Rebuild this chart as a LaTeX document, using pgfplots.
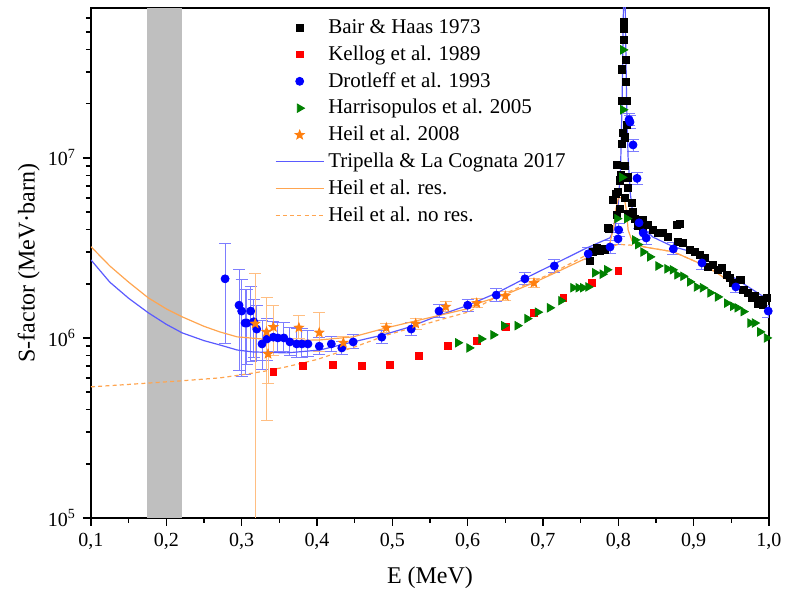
\documentclass[border=0pt]{standalone}
\usepackage{fontspec}
\setmainfont{Liberation Serif}
\usepackage{pgfplots}
\pgfplotsset{compat=1.18}
\usepackage{pgfplotstable}

\definecolor{tripblue}{RGB}{90,90,255}
\definecolor{heilorange}{RGB}{255,165,80}
\definecolor{starorange}{RGB}{255,127,14}
\definecolor{errblue}{RGB}{125,125,255}
\definecolor{errorange}{RGB}{255,190,130}
\definecolor{hgreen}{RGB}{0,128,0}

\pgfdeclareplotmark{fstar}{%
  \pgfpathmoveto{\pgfpointpolar{90}{\pgfplotmarksize}}%
  \pgfpathlineto{\pgfpointpolar{126}{0.42\pgfplotmarksize}}%
  \pgfpathlineto{\pgfpointpolar{162}{\pgfplotmarksize}}%
  \pgfpathlineto{\pgfpointpolar{198}{0.42\pgfplotmarksize}}%
  \pgfpathlineto{\pgfpointpolar{234}{\pgfplotmarksize}}%
  \pgfpathlineto{\pgfpointpolar{270}{0.42\pgfplotmarksize}}%
  \pgfpathlineto{\pgfpointpolar{306}{\pgfplotmarksize}}%
  \pgfpathlineto{\pgfpointpolar{342}{0.42\pgfplotmarksize}}%
  \pgfpathlineto{\pgfpointpolar{18}{\pgfplotmarksize}}%
  \pgfpathlineto{\pgfpointpolar{54}{0.42\pgfplotmarksize}}%
  \pgfpathclose\pgfusepathqfillstroke}

\pgfplotstableread{
E S
0.762 2.68e6
0.766 3.00e6
0.772 3.15e6
0.776 3.04e6
0.782 3.10e6
0.786 4.10e6
0.788 4.05e6
0.793 5.85e6
0.797 6.30e6
0.7983 9.10e6
0.7996 6.50e6
0.8022 7.50e6
0.8036 8.05e6
0.8049 1.20e7
0.8049 2.07e7
0.8049 3.10e7
0.8076 5.70e7
0.8076 5.20e7
0.8076 4.50e7
0.8102 3.50e7
0.8102 2.64e7
0.8115 2.07e7
0.8115 1.52e7
0.8062 1.38e7
0.8089 1.30e7
0.8089 9.00e6
0.8129 7.80e6
0.8129 6.80e6
0.8089 6.00e6
0.8022 5.20e6
0.7983 4.80e6
0.8129 4.90e6
0.8195 5.00e6
0.8222 4.60e6
0.8180 5.60e6
0.8328 4.50e6
0.8328 4.00e6
0.8262 4.20e6
0.829 4.40e6
0.839 4.25e6
0.846 3.98e6
0.853 3.83e6
0.859 3.83e6
0.866 3.64e6
0.878 4.25e6
0.882 4.30e6
0.879 3.41e6
0.886 3.37e6
0.895 3.08e6
0.902 3.00e6
0.908 2.89e6
0.915 2.78e6
0.919 2.48e6
0.926 2.55e6
0.932 2.39e6
0.938 2.45e6
0.944 2.24e6
0.948 2.15e6
0.952 2.02e6
0.962 2.10e6
0.966 1.85e6
0.972 1.78e6
0.977 1.67e6
0.981 1.72e6
0.985 1.55e6
0.988 1.63e6
0.992 1.52e6
0.997 1.67e6
}\bair

\pgfplotstableread{
E S
0.342 6.48e5
0.381 6.98e5
0.421 7.08e5
0.460 6.98e5
0.497 7.08e5
0.535 7.94e5
0.574 9.03e5
0.612 9.60e5
0.651 1.15e6
0.688 1.38e6
0.727 1.67e6
0.765 2.02e6
0.800 2.36e6
}\kellog

\pgfplotstableread{
E S ep em
0.278 2.13e6 1.20e6 1.20e6
0.2965 1.52e6 0.87e6 0.86e6
0.300 1.41e6 0.69e6 0.80e6
0.3045 1.21e6 0.64e6 0.58e6
0.307 1.21e6 0.64e6 0.50e6
0.312 1.41e6 0.51e6 0.67e6
0.316 1.23e6 0.40e6 0.45e6
0.320 1.12e6 0.40e6 0.37e6
0.327 9.26e5 3.3e5 2.6e5
0.3336 9.87e5 3.0e5 2.4e5
0.342 1.01e6 2.2e5 1.7e5
0.348 1.00e6 2.2e5 1.6e5
0.356 1.00e6 2.2e5 1.6e5
0.364 9.50e5 2.0e5 1.5e5
0.373 9.26e5 2.0e5 1.5e5
0.380 9.26e5 2.0e5 1.5e5
0.388 9.26e5 1.8e5 1.4e5
0.403 9.00e5 1.0e5 0.9e5
0.419 9.26e5 0.9e5 0.8e5
0.433 8.80e5 0.8e5 0.7e5
0.448 9.50e5 0.9e5 0.8e5
0.486 1.01e6 0.9e5 0.8e5
0.525 1.12e6 1.0e5 0.9e5
0.562 1.41e6 1.2e5 1.1e5
0.600 1.52e6 1.2e5 1.1e5
0.638 1.73e6 1.4e5 1.3e5
0.676 2.13e6 1.7e5 1.6e5
0.715 2.51e6 2.0e5 1.9e5
0.760 2.93e6 2.3e5 2.2e5
0.789 3.20e6 2.6e5 2.4e5
0.7996 3.55e6 2.8e5 2.6e5
0.8005 3.98e6 3.2e5 3.0e5
0.8142 1.63e7 1.3e6 1.2e6
0.8155 1.58e7 1.3e6 1.2e6
0.8195 1.18e7 0.9e6 0.9e6
0.8248 7.70e6 0.6e6 0.6e6
0.8275 4.36e6 3.5e5 3.3e5
0.833 3.83e6 3.0e5 2.9e5
0.837 3.59e6 2.9e5 2.7e5
0.873 3.12e6 2.5e5 2.3e5
0.911 2.61e6 2.1e5 2.0e5
0.956 1.92e6 1.5e5 1.4e5
0.999 1.41e6 1.1e5 1.1e5
}\drot

\pgfplotstableread{
E S
0.587 9.40e5
0.602 8.80e5
0.618 9.87e5
0.634 1.04e6
0.648 1.17e6
0.666 1.17e6
0.679 1.28e6
0.693 1.39e6
0.709 1.47e6
0.724 1.61e6
0.740 1.90e6
0.747 1.90e6
0.753 1.90e6
0.760 1.92e6
0.769 2.30e6
0.779 2.26e6
0.785 2.39e6
0.7983 4.60e6
0.8049 7.80e6
0.8062 1.85e7
0.8062 3.98e7
0.8115 4.60e6
0.822 3.50e6
0.826 3.30e6
0.833 3.00e6
0.842 2.82e6
0.853 2.51e6
0.865 2.42e6
0.872 2.39e6
0.878 2.24e6
0.886 2.20e6
0.895 2.05e6
0.904 1.92e6
0.912 1.90e6
0.922 1.78e6
0.932 1.69e6
0.944 1.56e6
0.952 1.50e6
0.958 1.47e6
0.966 1.40e6
0.975 1.21e6
0.981 1.21e6
0.988 1.08e6
0.997 1.00e6
}\harris

\pgfplotstableread{
E S ep em
0.318 1.20e6 1.07e6 1.19e6
0.333 1.08e6 0.59e6 0.73e6
0.335 8.15e5 2.9e5 2.6e5
0.342 1.15e6 3.7e5 3.5e5
0.376 1.14e6 1.9e5 1.5e5
0.403 1.07e6 3.1e5 2.3e5
0.435 9.40e5 0.8e5 0.7e5
0.492 1.14e6 0.7e5 0.7e5
0.531 1.20e6 0.9e5 0.8e5
0.571 1.49e6 1.1e5 0.9e5
0.612 1.56e6 0.9e5 0.9e5
0.650 1.71e6 1.0e5 1.0e5
0.688 2.02e6 1.2e5 1.2e5
}\heil

\pgfplotstableread{
E S
0.100 2.71e6
0.125 2.04e6
0.150 1.66e6
0.176 1.38e6
0.200 1.19e6
0.221 1.067e6
0.250 9.66e5
0.271 9.14e5
0.294 8.57e5
0.315 8.36e5
0.360 8.26e5
0.404 8.57e5
0.448 9.51e5
0.488 1.04e6
0.523 1.15e6
0.563 1.34e6
0.599 1.51e6
0.639 1.78e6
0.676 2.14e6
0.713 2.55e6
0.758 3.16e6
0.789 3.60e6
0.796 4.17e6
0.800 5.62e6
0.803 8.90e6
0.805 2.00e7
0.807 7.90e7
0.809 7.90e7
0.811 2.00e7
0.813 1.00e7
0.816 6.30e6
0.819 5.00e6
0.825 4.37e6
0.846 3.63e6
0.873 3.21e6
0.904 2.96e6
0.931 2.48e6
0.962 2.05e6
1.000 1.62e6
}\trip

\pgfplotstableread{
E S
0.100 3.21e6
0.125 2.51e6
0.150 2.04e6
0.176 1.67e6
0.200 1.45e6
0.221 1.31e6
0.250 1.16e6
0.271 1.08e6
0.294 1.014e6
0.328 9.86e5
0.360 9.66e5
0.404 9.75e5
0.448 1.014e6
0.493 1.14e6
0.537 1.26e6
0.599 1.45e6
0.612 1.55e6
0.650 1.74e6
0.687 2.02e6
0.720 2.34e6
0.758 2.78e6
0.780 3.09e6
0.789 3.39e6
0.794 4.17e6
0.797 5.25e6
0.800 6.00e6
0.808 6.00e6
0.811 5.00e6
0.813 3.98e6
0.818 3.47e6
0.825 3.27e6
0.842 3.16e6
0.873 3.01e6
0.904 2.64e6
0.931 2.30e6
0.958 1.92e6
0.984 1.63e6
1.000 1.41e6
}\heilres

\pgfplotstableread{
E S
0.100 5.35e5
0.150 5.52e5
0.218 5.77e5
0.271 6.00e5
0.300 6.24e5
0.330 6.53e5
0.360 6.92e5
0.400 7.59e5
0.450 8.91e5
0.4935 1.04e6
0.563 1.26e6
0.600 1.39e6
0.639 1.69e6
0.676 1.97e6
0.713 2.30e6
0.758 2.89e6
0.785 3.16e6
0.800 3.31e6
0.820 3.27e6
0.842 3.16e6
0.873 3.01e6
0.904 2.64e6
0.931 2.30e6
0.958 1.92e6
0.984 1.63e6
1.000 1.41e6
}\heilnores

\begin{document}
\begin{tikzpicture}
\path[use as bounding box] (-45.5pt,-39pt) rectangle (348.5pt,259pt);
\begin{axis}[
  at={(0pt,0pt)}, anchor=south west,
  scale only axis, width=339pt, height=255pt,
  xmin=0.1, xmax=1.0, ymode=log, ymin=1e5, ymax=6.8e7,
  xtick={0.1,0.2,0.3,0.4,0.5,0.6,0.7,0.8,0.9,1.0},
  xticklabels={{0,1},{0,2},{0,3},{0,4},{0,5},{0,6},{0,7},{0,8},{0,9},{1,0}},
  minor xtick={0.15,0.25,0.35,0.45,0.55,0.65,0.75,0.85,0.95},
  ytick={1e5,1e6,1e7},
  yticklabels={10\textsuperscript{5},10\textsuperscript{6},10\textsuperscript{7}},
  minor ytick={2e5,3e5,4e5,5e5,6e5,7e5,8e5,9e5,2e6,3e6,4e6,5e6,6e6,7e6,8e6,9e6,2e7,3e7,4e7,5e7,6e7},
  tick align=outside, xtick pos=bottom, ytick pos=left,
  major tick length=4pt, minor tick length=2.5pt,
  axis line style={line width=1pt},
  every tick/.style={black, line width=0.8pt},
  ticklabel style={font=\fontsize{10}{11}\selectfont},
  xlabel={E (MeV)}, ylabel={S-factor (MeV·barn)},
  xlabel style={font=\fontsize{12}{14}\selectfont, at={(axis description cs:0.5,-0.118)}, anchor=center},
  ylabel style={font=\fontsize{12}{14}\selectfont, at={(axis description cs:-0.092,0.5)}, anchor=center},
  legend style={draw=none, fill=none, at={(axis description cs:0.268,0.99)}, anchor=north west,
    font=\fontsize{10.5}{12}\selectfont, row sep=0.6pt, inner sep=1pt},
  legend cell align=left,
  legend image code/.code={\draw[mark repeat=2,mark phase=2,#1] plot coordinates {(0pt,0pt) (12pt,0pt) (24pt,0pt)};},
  clip=true,
]
\addplot[fill=black!25, draw=none, forget plot] coordinates {(0.175,1e5) (0.175,6.8e7) (0.221,6.8e7) (0.221,1e5)} -- cycle;

\addplot[only marks, mark=square*, mark size=1.8pt, black] table[x=E,y=S]{\bair};
\addlegendentry{Bair \& Haas 1973}
\addplot[only marks, mark=square*, mark size=1.7pt, red] table[x=E,y=S]{\kellog};
\addlegendentry{Kellog et al. 1989}
\addplot[only marks, mark=*, mark size=2pt, blue,
  error bars/.cd, y dir=both, y explicit,
  error bar style={errblue, line width=0.5pt},
  error mark options={rotate=90, mark size=3pt, errblue, line width=0.5pt}]
  table[x=E,y=S,y error plus=ep,y error minus=em]{\drot};
\addlegendentry{Drotleff et al. 1993}
\addplot[only marks, mark=triangle*, mark size=2.4pt, hgreen, mark options={rotate=-90}] table[x=E,y=S]{\harris};
\addlegendentry{Harrisopulos et al. 2005}
\addplot[only marks, mark=fstar, mark size=2.4pt, starorange,
  error bars/.cd, y dir=both, y explicit,
  error bar style={errorange, line width=0.5pt},
  error mark options={rotate=90, mark size=3pt, errorange, line width=0.5pt}]
  table[x=E,y=S,y error plus=ep,y error minus=em]{\heil};
\addlegendentry{Heil et al. 2008}
\addplot[tripblue, line width=0.6pt, mark=none] table[x=E,y=S]{\trip};
\addlegendentry{Tripella \& La Cognata 2017}
\addplot[heilorange, line width=0.6pt, mark=none] table[x=E,y=S]{\heilres};
\addlegendentry{Heil et al. res.}
\addplot[heilorange, line width=0.6pt, dash pattern=on 2pt off 1.6pt, mark=none] table[x=E,y=S]{\heilnores};
\addlegendentry{Heil et al. no res.}
\end{axis}
\end{tikzpicture}
\end{document}
